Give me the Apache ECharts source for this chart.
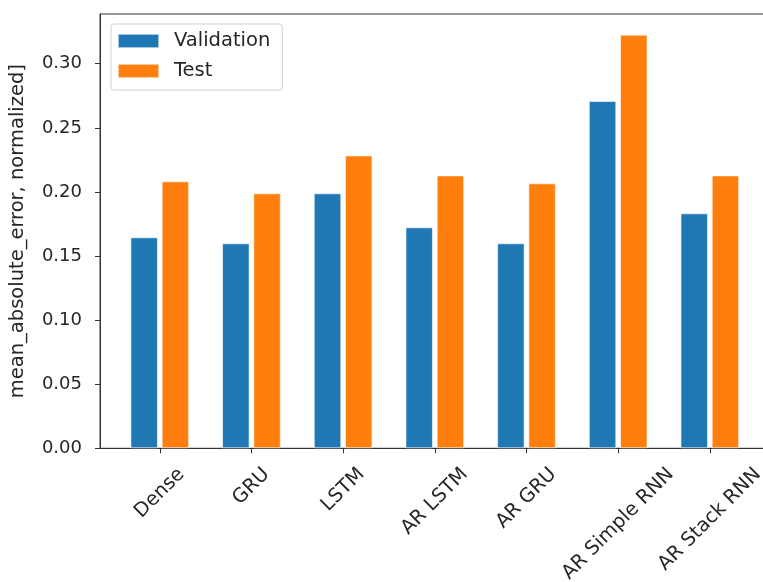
<!DOCTYPE html>
<html>
<head>
<meta charset="utf-8">
<script src="https://cdn.jsdelivr.net/npm/echarts@6/dist/echarts.min.js"></script>
<style>html,body{margin:0;padding:0;background:#fff}#c{width:763px;height:582px}</style>
</head>
<body>
<div id="c"></div>
<script>
const categories = ['Dense', 'GRU', 'LSTM', 'AR LSTM', 'AR GRU', 'AR Simple RNN', 'AR Stack RNN'];
const validation = [0.1646, 0.1599, 0.1989, 0.1724, 0.1599, 0.2709, 0.1833];
const test = [0.2083, 0.1989, 0.2285, 0.2129, 0.2067, 0.3227, 0.2129];
const yTicks = [0, 0.05, 0.10, 0.15, 0.20, 0.25, 0.30];
const yLabel = 'mean_absolute_error, normalized]';

const FONT = '"DejaVu Sans", Verdana, sans-serif';
const FS = 19.5;   // words
const FSN = 18;    // tick numbers
const TXT = '#262626';

// per-label padding so each rotated label's bounding box is centred under its tick
const mctx = document.createElement('canvas').getContext('2d');
mctx.font = FS + 'px "DejaVu Sans"';
const rich = {};
categories.forEach((c, i) => {
  const w = mctx.measureText(c).width;
  const h = FS * 1.16;
  const d = 15 + 0.354 * (w + h);
  const p = 1.414 * d;
  rich['c' + i] = { fontFamily: FONT, fontSize: FS, color: TXT, padding: [p, p, 0, 0] };
});

const chart = echarts.init(document.getElementById('c'), null, { renderer: 'canvas' });
chart.setOption({
  animation: false,
  textStyle: { fontFamily: FONT },
  grid: {
    left: 100, top: 14, bottom: 133.7, right: -6.6,
    containLabel: false, outerBoundsMode: 'none',
    show: true, borderColor: '#333', borderWidth: 1, backgroundColor: 'transparent'
  },
  legend: {
    orient: 'vertical', left: 111, top: 24,
    padding: [7, 12, 9, 6],
    itemWidth: 41, itemHeight: 14, itemGap: 10,
    icon: 'rect',
    borderColor: '#d0d0d0', borderWidth: 1, borderRadius: 3,
    backgroundColor: 'rgba(255,255,255,0.8)',
    textStyle: { fontFamily: FONT, fontSize: FS, color: TXT, lineHeight: 18, padding: [0, 0, 0, 10] },
    data: ['Validation', 'Test']
  },
  xAxis: {
    type: 'value', min: -0.652, max: 6.652,
    splitLine: { show: false },
    axisLine: { show: true, onZero: false, lineStyle: { color: '#333', width: 1 } },
    axisTick: { show: true, customValues: categories.map((c, i) => i), length: 5, lineStyle: { color: '#333' } },
    axisLabel: {
      customValues: categories.map((c, i) => i),
      rotate: 45, align: 'center', verticalAlign: 'middle', margin: 0,
      formatter: v => '{c' + v + '|' + categories[v] + '}',
      rich: rich,
      fontFamily: FONT, fontSize: FS, color: TXT
    }
  },
  yAxis: {
    type: 'value', min: 0, max: 0.3388, interval: 0.05,
    name: yLabel, nameLocation: 'middle', nameGap: 72, nameRotate: 90,
    nameTextStyle: { fontFamily: FONT, fontSize: FS, color: TXT },
    splitLine: { show: false },
    axisLine: { show: true, onZero: false, lineStyle: { color: '#333', width: 1 } },
    axisTick: { show: true, customValues: yTicks, length: 5, lineStyle: { color: '#333' } },
    axisLabel: {
      customValues: yTicks,
      formatter: v => v.toFixed(2),
      margin: 18, fontFamily: FONT, fontSize: FSN, color: TXT
    }
  },
  series: [
    {
      name: 'Validation', type: 'bar',
      data: validation.map((v, i) => [i, v]),
      barWidth: 27.5, barGap: '13.5%',
      itemStyle: { color: '#1f77b4', borderColor: 'rgba(255,255,255,0.6)', borderWidth: 1 }
    },
    {
      name: 'Test', type: 'bar',
      data: test.map((v, i) => [i, v]),
      barWidth: 27.5, barGap: '13.5%',
      itemStyle: { color: '#ff7f0e', borderColor: 'rgba(255,255,255,0.6)', borderWidth: 1 }
    }
  ]
});
</script>
</body>
</html>
